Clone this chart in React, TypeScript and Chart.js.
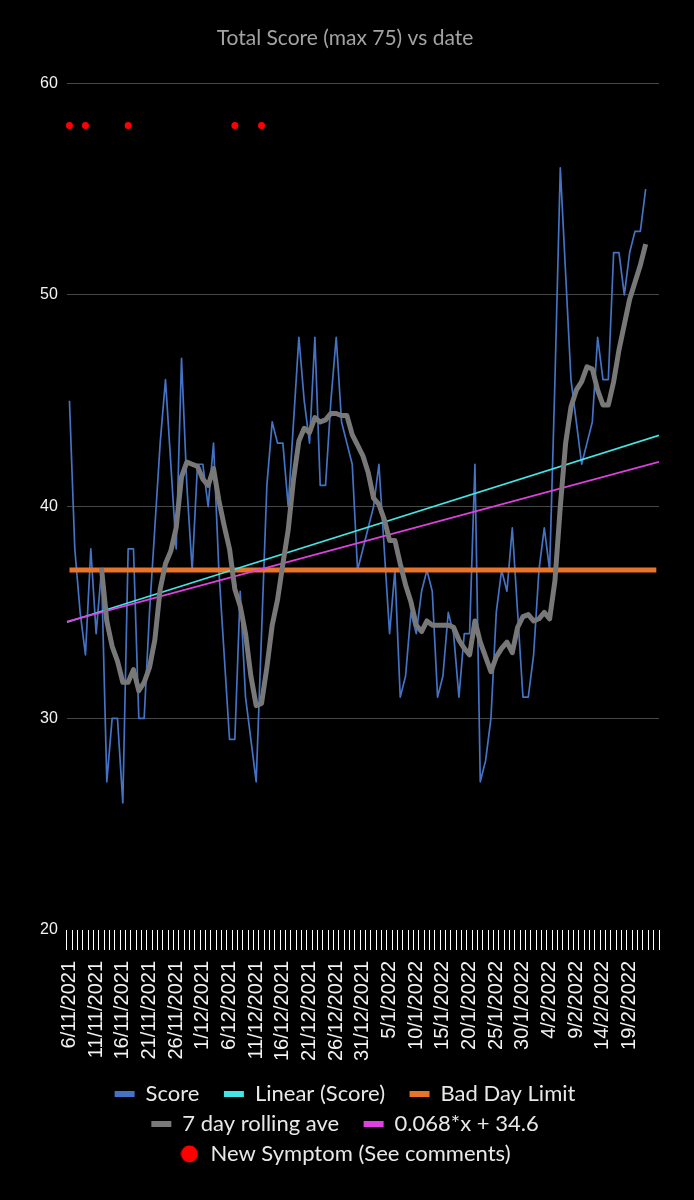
import Chart from "chart.js/auto";
import { useEffect, useRef } from "react";

// one label per day from 6/11/2021; Excel leaves an empty slot after the last row
const firstDay = new Date(2021, 10, 6);
const dayCount = 110;
const dates: string[] = [];
for (let i = 0; i < dayCount; i++) {
  const d = new Date(firstDay.getFullYear(), firstDay.getMonth(), firstDay.getDate() + i);
  dates.push(`${d.getDate()}/${d.getMonth() + 1}/${d.getFullYear()}`);
}
dates.push("");

const scores = [
  45, 38, 35, 33, 38, 34, 37, 27, 30, 30,
  26, 38, 38, 30, 30, 35, 39, 43, 46, 42,
  38, 47, 41, 37, 42, 42, 40, 43, 37, 33,
  29, 29, 36, 31, 29, 27, 34, 41, 44, 43,
  43, 40, 44, 48, 45, 43, 48, 41, 41, 45,
  48, 44, 43, 42, 37, 38, 39, 40, 42, 38,
  34, 37, 31, 32, 35, 34, 36, 37, 36, 31,
  32, 35, 34, 31, 34, 34, 42, 27, 28, 30,
  35, 37, 36, 39, 35, 31, 31, 33, 37, 39,
  37, 46, 56, 51, 46, 44, 42, 43, 44, 48,
  46, 46, 52, 52, 50, 52, 53, 53, 55,
];

// grey line starts on day 7
const rollingStart = 6;
const rollingAve = [
  37.1, 34.6, 33.4, 32.7, 31.7, 31.7, 32.3, 31.3, 31.7, 32.4,
  33.7, 36.1, 37.3, 37.9, 39.0, 41.4, 42.1, 42.0, 41.9, 41.3,
  41.0, 41.8, 40.3, 39.1, 38.0, 36.1, 35.3, 34.0, 32.0, 30.6,
  30.7, 32.4, 34.4, 35.6, 37.3, 38.9, 41.3, 43.1, 43.7, 43.5,
  44.2, 44.0, 44.1, 44.4, 44.4, 44.3, 44.3, 43.4, 42.9, 42.4,
  41.6, 40.4, 40.1, 39.4, 38.4, 38.4, 37.3, 36.3, 35.5, 34.4,
  34.1, 34.6, 34.4, 34.4, 34.4, 34.4, 34.3, 33.7, 33.3, 33.0,
  34.6, 33.6, 32.9, 32.2, 32.9, 33.3, 33.6, 33.1, 34.3, 34.8,
  34.9, 34.6, 34.7, 35.0, 34.7, 36.5, 40.0, 43.0, 44.7, 45.5,
  45.9, 46.6, 46.5, 45.5, 44.8, 44.8, 45.9, 47.4, 48.6, 49.8,
  50.6, 51.4, 52.4,
];

const badDayLimit = 37;
const symptomDays = [0, 3, 11, 31, 36];
const symptomLevel = 58;

const linearSlope = 0.0795;
const linearIntercept = 34.58;
const fitSlope = 0.068;
const fitIntercept = 34.6;

const BLUE = "#4472C4";
const CYAN = "#44E4E4";
const ORANGE = "#E8742A";
const GREY = "#787878";
const MAGENTA = "#E040E0";
const RED = "#FF0000";

export default function App() {
  const canvasRef = useRef<HTMLCanvasElement | null>(null);
  const chartRef = useRef<Chart | null>(null);

  useEffect(() => {
    document.body.style.margin = "0";
    document.body.style.background = "#000";

    const canvas = canvasRef.current;
    if (!canvas) {
      return;
    }

    // bigger dot for the legend than the one used on the plot
    const dot = document.createElement("canvas");
    dot.width = 18;
    dot.height = 18;
    const dctx = dot.getContext("2d");
    if (dctx) {
      dctx.fillStyle = RED;
      dctx.beginPath();
      dctx.arc(9, 9, 8.5, 0, Math.PI * 2);
      dctx.fill();
    }

    const edges = [-0.5, dates.length - 0.5];
    const gapAfter = new Set([0, 1, 3]);

    chartRef.current?.destroy();
    chartRef.current = new Chart(canvas, {
      type: "line",
      data: {
        labels: dates,
        datasets: [
          {
            label: "Score",
            data: scores,
            borderColor: BLUE,
            borderWidth: 1.7,
            borderJoinStyle: "round",
            pointRadius: 0,
            order: 6,
          },
          {
            label: "Linear (Score)",
            data: edges.map((x) => ({ x, y: linearIntercept + linearSlope * x })),
            xAxisID: "xt",
            borderColor: CYAN,
            borderWidth: 1.6,
            pointRadius: 0,
            order: 4,
          },
          {
            label: "Bad Day Limit",
            data: dates.map(() => badDayLimit),
            borderColor: ORANGE,
            borderWidth: 5,
            pointRadius: 0,
            order: 5,
          },
          {
            label: "7 day rolling ave",
            data: [...Array(rollingStart).fill(null), ...rollingAve],
            borderColor: GREY,
            borderWidth: 5,
            borderJoinStyle: "round",
            pointRadius: 0,
            order: 2,
          },
          {
            label: `${fitSlope}*x + ${fitIntercept}`,
            data: edges.map((x) => ({ x, y: fitIntercept + fitSlope * x })),
            xAxisID: "xt",
            borderColor: MAGENTA,
            borderWidth: 1.6,
            pointRadius: 0,
            order: 3,
          },
          {
            label: "New Symptom (See comments)",
            data: dates.map((_, i) => (symptomDays.includes(i) ? symptomLevel : null)),
            showLine: false,
            borderColor: RED,
            backgroundColor: RED,
            pointBackgroundColor: RED,
            pointBorderWidth: 0,
            pointRadius: 3.5,
            order: 1,
          },
        ],
      },
      options: {
        responsive: true,
        maintainAspectRatio: false,
        animation: false,
        layout: { padding: { left: 31, right: 35, top: 0, bottom: 25 } },
        plugins: {
          tooltip: { enabled: false },
          title: {
            display: true,
            text: "Total Score (max 75) vs date",
            color: "#a3a3a3",
            font: { family: "Lato", size: 21, weight: "normal" },
            padding: { top: 26, bottom: 32 },
          },
          legend: {
            position: "bottom",
            labels: {
              color: "#e8e8e8",
              font: { family: "Lato", size: 22 },
              usePointStyle: true,
              pointStyleWidth: 20,
              boxWidth: 20,
              boxHeight: 6,
              padding: 8,
              generateLabels: (chart) => {
                const items = Chart.defaults.plugins.legend.labels.generateLabels(chart);
                return items
                  .sort((a, b) => (a.datasetIndex ?? 0) - (b.datasetIndex ?? 0))
                  .map((item) => {
                    const idx = item.datasetIndex ?? 0;
                    const ds = chart.data.datasets[idx];
                    const isDot = idx === 5;
                    return {
                      ...item,
                      text: gapAfter.has(idx) ? item.text + "\u2003" : item.text,
                      fillStyle: ds.borderColor as string,
                      strokeStyle: ds.borderColor as string,
                      lineWidth: 0,
                      pointStyle: isDot ? dot : "rect",
                    };
                  });
              },
            },
          },
        },
        scales: {
          x: {
            type: "category",
            offset: true,
            grid: {
              offset: true,
              drawOnChartArea: false,
              drawTicks: true,
              tickLength: 20,
              color: "#ffffff",
              lineWidth: 1,
            },
            border: { display: false },
            ticks: {
              autoSkip: false,
              minRotation: 90,
              maxRotation: 90,
              padding: 11,
              color: "#f2f2f2",
              font: { family: "Liberation Sans", size: 20 },
              callback: (_value, index) => (index % 5 === 0 ? dates[index] : ""),
            },
            afterFit: (scale) => {
              scale.height = 145;
            },
          },
          xt: {
            type: "linear",
            display: false,
            min: edges[0],
            max: edges[1],
          },
          y: {
            min: 20,
            max: 60,
            ticks: {
              stepSize: 10,
              padding: 9,
              color: "#f2f2f2",
              font: { family: "Liberation Sans", size: 16 },
            },
            grid: {
              drawTicks: false,
              color: (ctx) => (ctx.tick?.value === 20 ? "rgba(0,0,0,0)" : "#474747"),
              lineWidth: 1,
            },
            border: { display: false },
          },
        },
      },
    });

    return () => {
      chartRef.current?.destroy();
      chartRef.current = null;
    };
  }, []);

  return (
    <div style={{ width: 694, height: 1200, background: "#000", position: "relative" }}>
      <canvas ref={canvasRef} />
    </div>
  );
}
